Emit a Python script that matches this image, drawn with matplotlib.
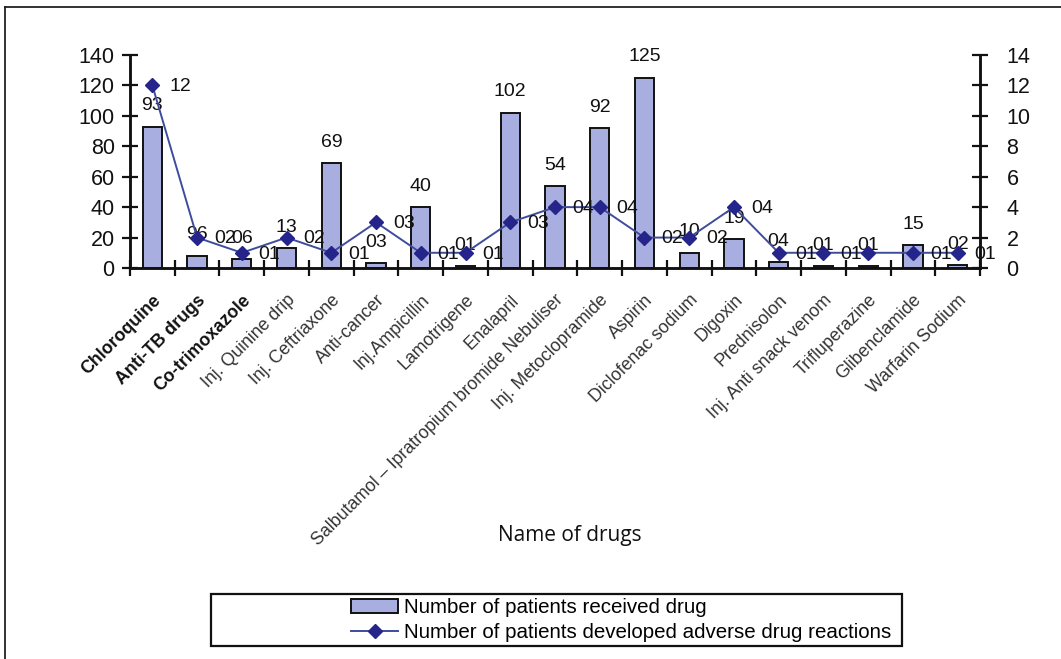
import numpy as np
import matplotlib.pyplot as plt
from matplotlib.patches import Rectangle
from matplotlib.lines import Line2D

plt.rcParams['font.family'] = ['Liberation Sans', 'DejaVu Sans']

drugs = ["Chloroquine", "Anti-TB drugs", "Co-trimoxazole", "Inj. Quinine drip",
         "Inj. Ceftriaxone", "Anti-cancer", "Inj.Ampicillin", "Lamotrigene",
         "Enalapril", "Salbutamol \u2013 Ipratropium bromide Nebuliser",
         "Inj. Metoclopramide", "Aspirin", "Diclofenac sodium", "Digoxin",
         "Prednisolon", "Inj. Anti snack venom", "Trifluperazine",
         "Glibenclamide", "Warfarin Sodium"]

# number of patients who received each drug
received = [93, 8, 6, 13, 69, 3, 40, 1, 102, 54, 92, 125, 10, 19, 4, 1, 1, 15, 2]
received_labels = ["93", "96", "06", "13", "69", "03", "40", "01", "102", "54",
                   "92", "125", "10", "19", "04", "01", "01", "15", "02"]

# number of patients who developed adverse drug reactions
adr = [12, 2, 1, 2, 1, 3, 1, 1, 3, 4, 4, 2, 2, 4, 1, 1, 1, 1, 1]
adr_labels = ["12", "02", "01", "02", "01", "03", "01", "01", "03", "04",
              "04", "02", "02", "04", "01", "01", "", "01", "01"]

W, H = 1061, 659
fig = plt.figure(figsize=(W / 100, H / 100), dpi=100)
ax = fig.add_axes([130 / W, 1 - 268 / H, 850 / W, 213 / H])
ax2 = ax.twinx()

x = np.arange(len(drugs))
bar_color = '#a9aee0'
line_color = '#3f4c9c'
marker_color = '#24248a'

bars = ax.bar(x, received, width=0.43, color=bar_color, edgecolor='#111111',
              linewidth=1.4, zorder=2)
line, = ax2.plot(x, adr, color=line_color, linewidth=1.4, marker='D',
                 markersize=7, markerfacecolor=marker_color,
                 markeredgecolor=marker_color, zorder=3)

ax.set_xlim(-0.5, len(drugs) - 0.5)
ax.set_ylim(0, 140)
ax2.set_ylim(0, 14)
ax.set_yticks(range(0, 141, 20))
ax2.set_yticks(range(0, 15, 2))

for a in (ax, ax2):
    a.spines['top'].set_visible(False)
    for s in ('left', 'right', 'bottom'):
        a.spines[s].set_linewidth(1.8)
        a.spines[s].set_color('#111111')
    a.tick_params(axis='y', direction='inout', length=12, width=1.6,
                  labelsize=15.5, colors='#111111')
ax.tick_params(axis='y', pad=5)
ax2.tick_params(axis='y', pad=13)

# boundary ticks on the category axis, names on minor ticks
ax.set_xticks(np.arange(-0.5, len(drugs), 1.0))
ax.set_xticklabels([])
ax.tick_params(axis='x', which='major', direction='inout', length=12,
               width=1.6, colors='#111111')
ax.set_xticks(x, minor=True)
ax.set_xticklabels(drugs, minor=True, rotation=45, ha='right',
                   rotation_mode='anchor', fontsize=12.8, color='#333333')
ax.tick_params(axis='x', which='minor', length=0, pad=17)
for i, lab in enumerate(ax.get_xticklabels(minor=True)):
    if i < 3:
        lab.set_fontweight('bold')
        lab.set_color('#111111')

ax2.set_zorder(ax.get_zorder() + 1)
ax2.patch.set_visible(False)

for xi, v, t in zip(x, received, received_labels):
    ax.annotate(t, (xi, v), xytext=(0, 15), textcoords='offset points',
                ha='center', va='center', fontsize=14, color='#111111')
for xi, v, t in zip(x, adr, adr_labels):
    if t:
        ax2.annotate(t, (xi, v), xytext=(20, -1), textcoords='offset points',
                     ha='center', va='center', fontsize=14, color='#111111')

fig.text(570 / W, 1 - 535 / H, "Name of drugs", ha='center', va='center',
         fontsize=15, family='Open Sans', color='#111111')

# legend box
fig.patches.append(Rectangle((211 / W, 1 - 646 / H), (902 - 211) / W,
                             (646 - 594) / H, transform=fig.transFigure,
                             fill=False, edgecolor='#111111', linewidth=1.6))
fig.legend([bars, line],
           ["Number of patients received drug",
            "Number of patients developed adverse drug reactions"],
           loc='center left', bbox_to_anchor=(351 / W, 1 - 620 / H),
           frameon=False, fontsize=14.8, handlelength=2.3, handletextpad=0.3,
           labelspacing=0.3, borderpad=0, borderaxespad=0)

# outer frame (top and left edges)
fig.add_artist(Line2D([5 / W, 1], [1 - 7 / H, 1 - 7 / H],
                      transform=fig.transFigure, color='#222222', linewidth=1.3))
fig.add_artist(Line2D([5 / W, 5 / W], [0, 1 - 7 / H],
                      transform=fig.transFigure, color='#222222', linewidth=1.3))

fig.savefig("out.png", dpi=100)
